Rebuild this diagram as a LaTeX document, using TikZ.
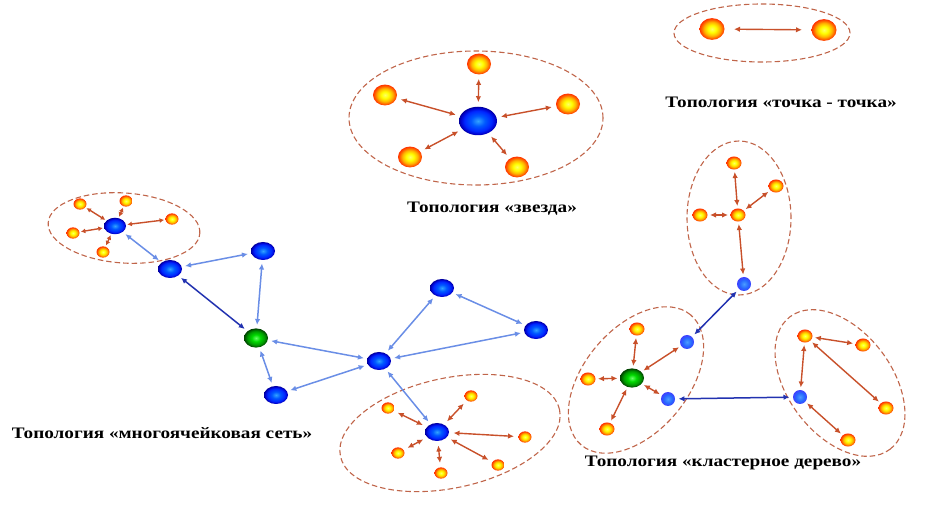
\documentclass[tikz,border=0pt]{standalone}
\usepackage{fontspec}
\setmainfont{Liberation Serif}
\newfontfamily\lblfont[FakeStretch=1.2]{Liberation Serif}
\usetikzlibrary{shapes.geometric,arrows.meta}
\definecolor{ored}{HTML}{C8502A}
\definecolor{lblue}{HTML}{6A8EE6}
\definecolor{dblue}{HTML}{2232B0}
\definecolor{ringc}{HTML}{C0654A}
\pgfdeclareradialshading{orangeball}{\pgfpoint{0bp}{0bp}}{color(0bp)=(yellow!60!white); color(8bp)=(yellow); color(16bp)=(orange!60!yellow); color(21bp)=(orange!80!red); color(25bp)=(red!60!orange); color(50bp)=(red!60!orange)}
\pgfdeclareradialshading{blueball}{\pgfpoint{0bp}{0bp}}{color(0bp)=(cyan!55!blue!80!white); color(9bp)=(cyan!35!blue); color(18bp)=(blue!85!cyan); color(23bp)=(blue!80!black); color(25bp)=(blue!60!black); color(50bp)=(blue!60!black)}
\pgfdeclareradialshading{blueflat}{\pgfpoint{0bp}{0bp}}{color(0bp)=(blue!55!cyan!70!white); color(15bp)=(blue!70!cyan!85!white); color(25bp)=(blue!75!white); color(50bp)=(blue!75!white)}
\pgfdeclareradialshading{greenball}{\pgfpoint{0bp}{0bp}}{color(0bp)=(green!60!white); color(9bp)=(green!85!black); color(18bp)=(green!60!black); color(23bp)=(green!35!black); color(25bp)=(green!25!black); color(50bp)=(green!25!black)}
\tikzset{
  nd/.style={ellipse,inner sep=0pt,outer sep=1.5pt},
  orb/.style={nd,shading=orangeball,minimum width=#1pt,minimum height=0.87*#1pt},
  blb/.style={nd,shading=blueball,minimum width=#1pt,minimum height=0.75*#1pt},
  blf/.style={nd,shading=blueflat,minimum width=#1pt,minimum height=#1pt},
  grb/.style={nd,shading=greenball,minimum width=#1pt,minimum height=0.8*#1pt},
  oconn/.style={ored,line width=1.4pt,{Latex[length=6pt,width=5.5pt]}-{Latex[length=6pt,width=5.5pt]},shorten <=1pt,shorten >=1pt},
  osmall/.style={ored,line width=1.4pt,{Latex[length=4.5pt,width=5pt]}-{Latex[length=4.5pt,width=5pt]}},
  lconn/.style={lblue,line width=1.5pt,{Latex[length=6pt,width=5.5pt]}-{Latex[length=6pt,width=5.5pt]},shorten <=2pt,shorten >=2pt},
  dconn/.style={dblue,line width=1.5pt,{Latex[length=6pt,width=5.5pt]}-{Latex[length=6pt,width=5.5pt]},shorten <=2pt,shorten >=2pt},
  ring/.style={ringc,dashed,dash pattern=on 5.5pt off 3pt,line width=1.1pt},
  lbl/.style={font=\lblfont\fontsize{16}{18}\selectfont\bfseries,inner sep=0pt}
}
\begin{document}
\begin{tikzpicture}[x=1pt,y=-1pt]
\useasboundingbox (0,0) rectangle (940,510);
% ---------- point to point
\draw[ring] (762,33) ellipse [x radius=88pt,y radius=29pt];
\node[orb=25] (p1) at (712,29) {};
\node[orb=25] (p2) at (824,30) {};
\draw[oconn,shorten <=8pt,shorten >=8pt] (p1) -- (p2);
\node[lbl] (lp) at (781,102) {Топология «точка - точка»};
% ---------- star
\draw[ring] (476,118) ellipse [x radius=127pt,y radius=67pt];
\node[blb=38] (sc) at (478,121) {};
\node[orb=24] (s1) at (479,64) {};
\node[orb=24] (s2) at (385,95) {};
\node[orb=24] (s3) at (568,104) {};
\node[orb=24] (s4) at (410,157) {};
\node[orb=24] (s5) at (517,167) {};
\foreach \s in {s1,s2,s3,s4,s5} \draw[oconn,shorten <=3pt,shorten >=3pt] (sc) -- (\s);
\node[lbl] (ls) at (492,209) {Топология «звезда»};
% ---------- mesh
\draw[ring] (124,228) ellipse [x radius=76pt,y radius=35pt,rotate=-4];
\node[blb=22] (m0) at (115,226) {};
\node[orb=13] (a1) at (80,204) {};
\node[orb=13] (a2) at (126,201) {};
\node[orb=13] (a3) at (172,219) {};
\node[orb=13] (a4) at (73,233) {};
\node[orb=13] (a5) at (103,252) {};
\foreach \s in {a1,a2,a3,a4,a5} \draw[osmall] (m0) -- (\s);
\node[blb=24] (mA) at (170,269) {};
\node[blb=24] (mB) at (263,251) {};
\node[grb=24] (mG) at (256,338) {};
\node[blb=24] (mC) at (276,395) {};
\node[blb=24] (mH) at (379,361) {};
\node[blb=24] (mT) at (442,288) {};
\node[blb=24] (mR) at (536,330) {};
\draw[ring] (450,433) ellipse [x radius=112pt,y radius=55pt,rotate=12];
\node[blb=24] (mL) at (437,432) {};
\node[orb=13] (b1) at (388,408) {};
\node[orb=13] (b2) at (471,396) {};
\node[orb=13] (b3) at (525,437) {};
\node[orb=13] (b4) at (398,453) {};
\node[orb=13] (b5) at (498,465) {};
\node[orb=13] (b6) at (441,473) {};
\foreach \s in {b1,b2,b3,b4,b5,b6} \draw[oconn,shorten <=3pt,shorten >=3pt] (mL) -- (\s);
\draw[lconn] (m0) -- (mA);
\draw[lconn] (mA) -- (mB);
\draw[dconn] (mA) -- (mG);
\draw[lconn] (mB) -- (mG);
\draw[lconn] (mG) -- (mH);
\draw[lconn] (mG) -- (mC);
\draw[lconn] (mC) -- (mH);
\draw[lconn] (mH) -- (mT);
\draw[lconn] (mT) -- (mR);
\draw[lconn] (mR) -- (mH);
\draw[lconn] (mH) -- (mL);
\node[lbl] (lm) at (162,433) {Топология «многоячейковая сеть»};
% ---------- cluster tree
\draw[ring] (739,218) ellipse [x radius=52pt,y radius=77pt];
\node[orb=15] (t1) at (734,163) {};
\node[orb=15] (t2) at (776,186) {};
\node[orb=15] (tc) at (738,215) {};
\node[orb=15] (t3) at (700,215) {};
\node[blf=14] (tb) at (744,284) {};
\foreach \s in {t1,t2,t3,tb} \draw[oconn] (tc) -- (\s);
\draw[ring] (636,380) ellipse [x radius=85pt,y radius=52pt,rotate=50];
\node[grb=24] (cg) at (632,378) {};
\node[orb=15] (c1) at (637,329) {};
\node[orb=15] (c2) at (588,379) {};
\node[orb=15] (c3) at (607,429) {};
\node[blf=14] (cb1) at (687,342) {};
\node[blf=14] (cb2) at (668,399) {};
\foreach \s in {c1,c2,c3,cb1,cb2} \draw[oconn] (cg) -- (\s);
\draw[ring] (840,383) ellipse [x radius=83pt,y radius=52pt,rotate=-53];
\node[orb=15] (r1) at (805,336) {};
\node[orb=15] (r2) at (863,345) {};
\node[orb=15] (r3) at (886,408) {};
\node[orb=15] (r4) at (848,440) {};
\node[blf=14] (rb) at (800,397) {};
\draw[oconn] (r1) -- (r2);
\draw[oconn] (r1) -- (r3);
\draw[oconn] (r1) -- (rb);
\draw[oconn] (rb) -- (r4);
\draw[dconn] (cb1) -- (tb);
\draw[dconn] (cb2) -- (rb);
\node[lbl] (lc) at (723,463) {Топология «кластерное дерево»};
\end{tikzpicture}
\end{document}
